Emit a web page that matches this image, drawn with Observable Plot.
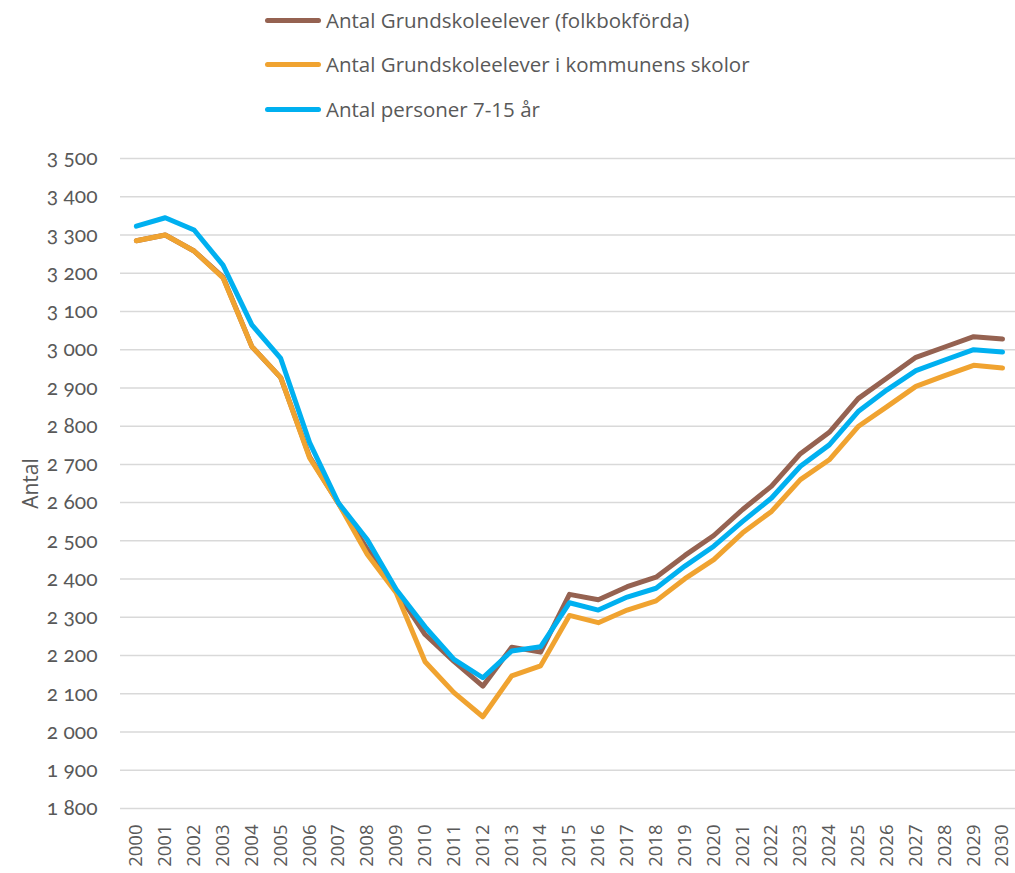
<!DOCTYPE html>
<html>
<head>
<meta charset="utf-8">
<script src="https://cdn.jsdelivr.net/npm/d3@7"></script>
<script src="https://cdn.jsdelivr.net/npm/@observablehq/plot@0.6"></script>
<style>
  body { margin: 0; background: #fff; font-family: "Open Sans", sans-serif; }
  #legend { position: relative; height: 140px; width: 1015px; }
  .row { position: absolute; left: 265px; display: flex; align-items: center; height: 24px; }
  .sw { width: 56px; height: 5px; border-radius: 3px; margin-right: 5px; }
  .lab { font-size: 20.5px; color: #595959; white-space: nowrap; }
  .yax text { font-family: Lato, "Open Sans", sans-serif; font-variant-numeric: oldstyle-nums; font-feature-settings: "onum" 1; }
</style>
</head>
<body>
<div id="legend"></div>
<div id="chart"></div>
<script>
const years = [2000,2001,2002,2003,2004,2005,2006,2007,2008,2009,2010,2011,2012,2013,2014,2015,2016,2017,2018,2019,2020,2021,2022,2023,2024,2025,2026,2027,2028,2029,2030];
const folkbokforda = [3285,3300,3258,3190,3008,2927,2720,2598,2478,2370,2255,2185,2120,2222,2209,2360,2346,2380,2405,2462,2514,2582,2643,2728,2784,2872,2926,2980,3007,3034,3028];
const kommunensSkolor = [3285,3300,3258,3188,3008,2927,2717,2598,2464,2364,2184,2103,2040,2147,2173,2305,2286,2319,2343,2401,2451,2521,2577,2660,2712,2799,2851,2904,2932,2959,2952];
const personer7_15 = [3323,3345,3313,3221,3065,2977,2757,2599,2503,2373,2275,2190,2142,2212,2223,2338,2319,2353,2376,2434,2486,2551,2612,2695,2751,2838,2895,2945,2973,3000,2994];
const seriesNames = ["Antal Grundskoleelever (folkbokförda)", "Antal Grundskoleelever i kommunens skolor", "Antal personer 7-15 år"];
const seriesColors = ["#956251", "#f0a330", "#00b0f0"];
const yTicks = [1800,1900,2000,2100,2200,2300,2400,2500,2600,2700,2800,2900,3000,3100,3200,3300,3400,3500];

const seriesValues = [folkbokforda, kommunensSkolor, personer7_15];
const data = seriesValues.flatMap((vals, s) => vals.map((v, i) => ({year: years[i], value: v, series: seriesNames[s]})));

// legend
const legend = document.getElementById("legend");
const rowTops = [8, 52, 97];
seriesNames.forEach((n, i) => {
  const row = document.createElement("div");
  row.className = "row";
  row.style.top = rowTops[i] + "px";
  row.innerHTML = `<div class="sw" style="background:${seriesColors[i]}"></div><div class="lab">${n}</div>`;
  legend.appendChild(row);
});

const fmtY = d => { const s = String(d); return s.slice(0, s.length - 3) + " " + s.slice(-3); };

const chart = Plot.plot({
  width: 1015,
  height: 733,
  marginLeft: 120,
  marginRight: 0,
  marginTop: 18,
  marginBottom: 65,
  style: {fontFamily: "'Open Sans', sans-serif", color: "#595959", background: "#fff"},
  x: {domain: [1999.45, 2030.45]},
  y: {domain: [1800, 3500]},
  color: {domain: seriesNames, range: seriesColors},
  marks: [
    Plot.gridY(yTicks, {stroke: "#d9d9d9", strokeOpacity: 1, strokeWidth: 1.5}),
    Plot.axisY(yTicks, {tickSize: 0, tickPadding: 23, tickFormat: fmtY, fontSize: 21, fill: "#595959", className: "yax",
      label: "Antal", labelAnchor: "center", labelArrow: "none", labelOffset: 97}),
    Plot.axisX(years, {tickSize: 0, tickPadding: 16, tickRotate: -90, tickFormat: d => String(d), fontSize: 18.5, fill: "#595959", label: null}),
    Plot.lineY(data, {x: "year", y: "value", stroke: "series", strokeWidth: 5, strokeLinejoin: "round", strokeLinecap: "round"})
  ]
});
chart.querySelectorAll("[aria-label='y-axis label'] text").forEach(t => { t.setAttribute("font-size", "21"); t.setAttribute("fill", "#595959"); t.style.fontFamily = "'Open Sans', sans-serif"; t.style.fontVariantNumeric = "normal"; });
document.getElementById("chart").appendChild(chart);
</script>
</body>
</html>
